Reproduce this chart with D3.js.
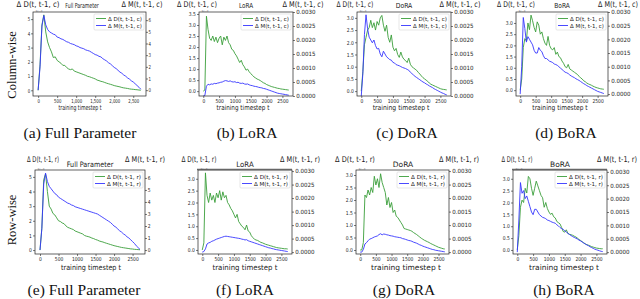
<!DOCTYPE html>
<html><head><meta charset="utf-8">
<script src="https://cdn.jsdelivr.net/npm/d3@7"></script>
<style>body{margin:0;background:#fff}svg{display:block}</style>
</head><body><svg id="c" width="640" height="299"></svg>
<script>
const timesteps = [0,50,100,150,200,250,300,350,400,450,500,550,600,650,700,750,800,850,900,950,1000,1050,1100,1150,1200,1250,1300,1350,1400,1450,1500,1550,1600,1650,1700,1750,1800,1850,1900,1950,2000,2050,2100,2150,2200,2250,2300,2350,2400,2450,2500,2550,2600,2650,2700];
const xTicks = [0,500,1000,1500,2000,2500];

// (a) Full Parameter, column-wise
const fullColD = [0,1.8,4.6,5.3,4.1,3.4,3.0,2.7,2.3,2.35,2.1,2.0,1.9,1.75,1.75,1.6,1.5,1.45,1.5,1.35,1.3,1.25,1.2,1.15,1.1,1.05,0.98,0.95,0.9,0.85,0.8,0.72,0.68,0.63,0.6,0.55,0.5,0.46,0.42,0.38,0.33,0.3,0.27,0.24,0.2,0.17,0.15,0.13,0.1,0.08,0.07,0.05,0.04,0.02,0.01];
const fullColM = [0,2.0,5.5,6.4,5.6,5.2,5.0,4.9,4.8,4.75,4.55,4.5,4.4,4.35,4.25,4.15,4.1,4.0,3.95,3.9,3.8,3.75,3.65,3.6,3.55,3.45,3.4,3.35,3.25,3.15,3.05,3.0,2.9,2.85,2.7,2.6,2.5,2.35,2.25,2.1,1.95,1.85,1.7,1.55,1.45,1.3,1.2,1.05,0.95,0.8,0.7,0.55,0.4,0.25,0.08];
// (b) LoRA, column-wise
const loraColD = [0,0.05,3.4,2.8,2.4,2.3,2.5,2.25,2.45,2.2,2.4,2.5,2.1,2.45,2.3,2.5,2.2,2.1,1.9,1.85,1.7,1.6,1.45,1.3,1.4,1.2,1.1,0.95,1.0,0.88,0.8,0.72,0.65,0.6,0.55,0.52,0.48,0.43,0.38,0.35,0.3,0.27,0.24,0.21,0.19,0.17,0.15,0.13,0.12,0.1,0.09,0.08,0.07,0.06,0.05];
const loraColM = [0,0.00002,0.00035,0.00042,0.0004,0.00043,0.00042,0.00045,0.00044,0.00046,0.00047,0.00049,0.0005,0.00053,0.00055,0.00054,0.00052,0.00054,0.00051,0.0005,0.00051,0.00048,0.00049,0.00046,0.00045,0.00046,0.00043,0.00042,0.00043,0.0004,0.00038,0.00037,0.00035,0.00034,0.00033,0.00031,0.0003,0.00029,0.00027,0.00026,0.00024,0.00022,0.0002,0.00018,0.00016,0.00014,0.00012,0.0001,0.00009,0.00008,0.00007,0.00006,0.00005,0.00004,0.00003];
// (c) DoRA, column-wise
const doraColD = [0,0.8,1.9,2.2,2.5,2.6,2.9,2.6,2.8,2.5,2.85,2.7,3.0,3.1,2.7,2.45,2.7,2.2,2.0,2.3,1.8,1.65,1.75,1.5,1.38,1.6,1.4,1.3,1.25,1.17,1.35,1.1,1.0,0.95,0.9,0.85,0.77,0.7,0.62,0.55,0.5,0.45,0.4,0.33,0.28,0.25,0.22,0.19,0.16,0.13,0.1,0.08,0.07,0.06,0.05];
const doraColM = [0,0.0008,0.0022,0.0029,0.0024,0.0021,0.002,0.0019,0.002,0.0018,0.00168,0.0017,0.0015,0.0014,0.0016,0.0015,0.0014,0.00135,0.0013,0.00128,0.0012,0.00118,0.00112,0.0011,0.00108,0.00105,0.00102,0.001,0.00098,0.00095,0.00092,0.00085,0.0008,0.00075,0.0007,0.00066,0.00062,0.00058,0.00054,0.0005,0.00047,0.00043,0.0004,0.00036,0.00033,0.0003,0.00026,0.00023,0.0002,0.00017,0.00014,0.00011,0.00009,0.00006,0.00004];
// (d) BoRA, column-wise
const boraColD = [0,0.5,1.9,2.3,2.2,3.0,2.7,3.35,3.1,2.8,2.6,3.05,2.9,2.5,2.6,2.3,2.1,2.0,2.4,2.0,1.85,1.8,1.9,1.6,1.7,1.5,1.45,1.3,1.2,1.05,1.0,1.15,0.95,0.9,0.85,0.8,0.75,0.7,0.62,0.55,0.5,0.42,0.38,0.32,0.28,0.25,0.22,0.18,0.15,0.12,0.1,0.08,0.06,0.05,0.04];
const boraColM = [0,0.001,0.0028,0.0024,0.0019,0.0021,0.002,0.0019,0.0018,0.0016,0.0015,0.0015,0.0017,0.0016,0.00155,0.0014,0.0013,0.0013,0.00125,0.0012,0.00118,0.00115,0.0011,0.00108,0.00105,0.001,0.00095,0.0009,0.00085,0.0008,0.00078,0.00075,0.0007,0.00066,0.00063,0.0006,0.00056,0.00053,0.0005,0.00046,0.00042,0.00038,0.00035,0.00031,0.00028,0.00025,0.00022,0.00019,0.00016,0.00013,0.0001,0.00008,0.00006,0.00004,0.00002];
// (e) Full Parameter, row-wise
const fullRowD = [0,1.5,4.8,5.2,4.0,3.0,2.8,2.5,2.4,2.2,2.0,1.95,1.85,1.8,1.65,1.55,1.5,1.45,1.4,1.3,1.25,1.2,1.15,1.1,1.0,0.95,0.92,0.88,0.82,0.78,0.72,0.68,0.62,0.58,0.55,0.5,0.46,0.42,0.38,0.34,0.3,0.27,0.24,0.21,0.18,0.16,0.14,0.12,0.1,0.08,0.07,0.05,0.04,0.03,0.02];
const fullRowM = [0,1.8,5.5,6.4,5.7,5.3,5.1,4.9,4.7,4.6,4.4,4.3,4.2,4.1,4.0,3.9,3.85,3.75,3.7,3.6,3.55,3.5,3.45,3.4,3.35,3.3,3.25,3.2,3.15,3.1,3.05,3.0,2.9,2.8,2.7,2.6,2.5,2.4,2.3,2.15,2.0,1.9,1.75,1.6,1.5,1.35,1.25,1.1,1.0,0.85,0.7,0.55,0.35,0.2,0.05];
// (f) LoRA, row-wise
const loraRowD = [0,0.3,3.25,2.3,2.0,2.4,2.1,2.3,2.0,2.4,2.2,2.5,2.1,2.45,2.2,2.3,2.0,1.9,1.75,1.65,1.5,1.35,1.5,1.2,1.1,1.0,0.95,0.85,1.05,0.8,0.75,0.6,0.52,0.45,0.42,0.4,0.36,0.32,0.3,0.27,0.24,0.22,0.2,0.18,0.16,0.14,0.12,0.1,0.09,0.08,0.07,0.06,0.05,0.05,0.04];
const loraRowM = [0,0.00002,0.00012,0.0003,0.00034,0.00036,0.0004,0.00042,0.00045,0.00048,0.0005,0.00052,0.00054,0.00056,0.00058,0.00059,0.00058,0.00057,0.00056,0.00055,0.00054,0.00053,0.00052,0.00051,0.0005,0.00048,0.00047,0.00045,0.00046,0.00042,0.0004,0.00038,0.00036,0.00034,0.00032,0.0003,0.00028,0.00026,0.00024,0.00022,0.0002,0.00018,0.00016,0.00015,0.00013,0.00012,0.0001,0.00009,0.00008,0.00007,0.00006,0.00005,0.00004,0.00003,0.00002];
// (g) DoRA, row-wise
const doraRowD = [0,0,0.3,2.2,2.1,2.4,2.2,2.5,2.3,2.95,2.6,2.85,2.5,3.05,2.7,2.5,2.3,1.8,2.1,1.7,1.9,1.5,1.6,1.35,1.3,1.2,1.1,1.0,0.86,0.84,0.82,0.8,0.78,0.75,0.7,0.66,0.62,0.57,0.52,0.47,0.43,0.39,0.36,0.33,0.3,0.26,0.23,0.2,0.17,0.14,0.11,0.09,0.07,0.05,0.04];
const doraRowM = [0,0,0.0001,0.0003,0.00035,0.00042,0.00048,0.0005,0.00053,0.00056,0.00058,0.0006,0.00065,0.00068,0.00064,0.00067,0.00066,0.00064,0.00063,0.00061,0.0006,0.00059,0.00057,0.00056,0.00055,0.00054,0.00053,0.0005,0.00049,0.00047,0.00045,0.00043,0.00042,0.0004,0.00037,0.00035,0.00033,0.0003,0.00027,0.00025,0.00022,0.0002,0.00018,0.00016,0.00014,0.00012,0.0001,0.00009,0.00007,0.00006,0.00005,0.00004,0.00003,0.00002,0.00001];
// (h) BoRA, row-wise
const boraRowD = [0,0.6,1.8,2.1,2.0,2.6,2.4,3.1,3.0,2.6,2.3,2.6,2.9,2.7,2.5,2.3,2.2,1.8,2.0,1.75,1.6,1.5,1.55,1.4,1.35,1.2,1.15,1.1,0.95,0.78,0.75,0.85,0.7,0.66,0.64,0.62,0.58,0.55,0.5,0.44,0.4,0.35,0.3,0.26,0.22,0.2,0.17,0.14,0.12,0.1,0.08,0.07,0.06,0.05,0.05];
const boraRowM = [0,0.0012,0.0026,0.0022,0.0023,0.002,0.0021,0.0019,0.0017,0.0015,0.0014,0.0016,0.0016,0.0015,0.0014,0.00135,0.0013,0.00128,0.00125,0.0012,0.00118,0.00115,0.00112,0.0011,0.00108,0.00102,0.00098,0.00092,0.00088,0.00085,0.0008,0.00075,0.0007,0.00066,0.00062,0.00058,0.00055,0.00052,0.00049,0.00045,0.00042,0.00038,0.00034,0.0003,0.00027,0.00024,0.0002,0.00017,0.00014,0.00011,0.00009,0.00007,0.00005,0.00003,0.00002];

const ticksInt5 = [0,1,2,3,4,5];
const ticksInt6 = [0,1,2,3,4,5,6];
const ticksHalf35 = [0,0.5,1,1.5,2,2.5,3,3.5];
const ticksHalf30 = [0,0.5,1,1.5,2,2.5,3];
const ticksSmall = [0,0.0005,0.001,0.0015,0.002,0.0025,0.003];

const fmtInt = d3.format('d'), fmt1 = d3.format('.1f'), fmt4 = d3.format('.4f');

const panels = [
 {title:'Full Parameter', cap:'(a) Full Parameter', s:'c', D:fullColD, M:fullColM, row:0,
  x0:33,x1:146, yL:[-0.4,5.5], yR:[-0.5,6.7], lt:ticksInt5, rt:ticksInt6, fL:fmtInt, fR:fmtInt, fx:d3.format(','),
  lx:38,lw:43, rx:142,rw:41, tx:82, xtx:80, sq:0.66, tsq:0.7, capx:80},
 {title:'LoRA', cap:'(b) LoRA', s:'c', D:loraColD, M:loraColM, row:0,
  x0:199,x1:293, yL:[-0.22,3.59], yR:[0,0.003], lt:ticksHalf35, rt:ticksSmall, fL:fmt1, fR:fmt4, fx:d3.format('d'),
  lx:197,lw:40, rx:303,rw:41, tx:246, xtx:243, sq:0.81, tsq:0.8, capx:247},
 {title:'DoRA', cap:'(c) DoRA', s:'c', D:doraColD, M:doraColM, row:0,
  x0:357,x1:451, yL:[-0.2,3.24], yR:[0,0.003], lt:ticksHalf30, rt:ticksSmall, fL:fmt1, fR:fmt4, fx:d3.format('d'),
  lx:355,lw:37, rx:460,rw:41, tx:404, xtx:401, sq:0.87, tsq:0.8, capx:407},
 {title:'BoRA', cap:'(d) BoRA', s:'c', D:boraColD, M:boraColM, row:0,
  x0:516,x1:608, yL:[-0.26,3.49], yR:[-0.00007,0.003], lt:ticksHalf30, rt:ticksSmall, fL:fmt1, fR:fmt4, fx:d3.format('d'),
  lx:516,lw:38, rx:618,rw:40, tx:562, xtx:560, sq:0.85, tsq:0.8, capx:566},
 {title:'Full Parameter', cap:'(e) Full Parameter', s:'r', D:fullRowD, M:fullRowM, row:1,
  x0:35,x1:145, yL:[-0.27,5.47], yR:[-0.33,6.66], lt:ticksInt5, rt:ticksInt6, fL:fmtInt, fR:fmtInt, fx:d3.format('d'),
  lx:43,lw:32, rx:145,rw:40, tx:90, xtx:91, sq:0.86, tsq:0.8, capx:84},
 {title:'LoRA', cap:'(f) LoRA', s:'r', D:loraRowD, M:loraRowM, row:1,
  x0:198,x1:292, yL:[-0.17,3.37], yR:[-0.00007,0.00304], lt:ticksHalf30, rt:ticksSmall, fL:fmt1, fR:fmt4, fx:d3.format('d'),
  lx:199,lw:35, rx:300,rw:40, tx:245, xtx:245, sq:0.93, tsq:0.8, capx:245, thickTop:true},
 {title:'DoRA', cap:'(g) DoRA', s:'r', D:doraRowD, M:doraRowM, row:1,
  x0:356,x1:449, yL:[-0.16,3.2], yR:[-0.00007,0.00304], lt:ticksHalf30, rt:ticksSmall, fL:fmt1, fR:fmt4, fx:d3.format('d'),
  lx:355,lw:40, rx:459,rw:40, tx:403, xtx:406, sq:1.0, tsq:0.8, capx:404},
 {title:'BoRA', cap:'(h) BoRA', s:'r', D:boraRowD, M:boraRowM, row:1,
  x0:513,x1:607, yL:[-0.17,3.37], yR:[-0.00007,0.00307], lt:ticksHalf30, rt:ticksSmall, fL:fmt1, fR:fmt4, fx:d3.format('d'),
  lx:517,lw:31, rx:617,rw:40, tx:560, xtx:564, sq:1.0, tsq:0.8, capx:564, thickTop:true}
];

const rows = [
 {y0:12, y1:96, lblY:6.8, titleY:8, tickFs:5.5, xtY:110, xtFs:7, capY:138, rowLabel:'Column-wise', rowLabelY:65},
 {y0:170, y1:254, lblY:162.3, titleY:166.5, tickFs:5.5, xtY:270, xtFs:7.5, capY:295, rowLabel:'Row-wise', rowLabelY:220}
];

const GREEN = '#3a9e3a', BLUE = '#3636ff', INK = '#222';
const SANS = 'DejaVu Sans, sans-serif', SERIF = 'Liberation Serif, Times New Roman, serif';
const xDomain = [-135, 2835];
const svg = d3.select('#c');
const defs = svg.append('defs');

function sqText(g, x, y, str, fs, sq, anchor) {
  return g.append('text').attr('transform', `translate(${x},${y}) scale(${sq},1)`)
    .attr('text-anchor', anchor || 'middle').attr('font-family', SANS)
    .attr('font-size', fs).attr('fill', INK).text(str);
}
// text squeezed horizontally so that its width becomes w (anchor: 'middle' or 'start')
function fitText(g, x, y, str, fs, w, anchor) {
  const t = g.append('text').attr('text-anchor', anchor || 'middle').attr('font-family', SANS)
    .attr('font-size', fs).attr('fill', INK).text(str);
  const len = t.node().getComputedTextLength() || w;
  t.attr('transform', `translate(${x},${y}) scale(${w / len},1)`);
  return t;
}

rows.forEach(r => {
  svg.append('text').attr('transform', `translate(15.5,${r.rowLabelY}) rotate(-90)`)
    .attr('text-anchor', 'middle').attr('font-family', SERIF).attr('font-size', 12.5)
    .attr('fill', '#111').text(r.rowLabel);
});

panels.forEach((p, i) => {
  const r = rows[p.row];
  const g = svg.append('g');
  const x = d3.scaleLinear().domain(xDomain).range([p.x0, p.x1]);
  const yL = d3.scaleLinear().domain(p.yL).range([r.y1, r.y0]);
  const yR = d3.scaleLinear().domain(p.yR).range([r.y1, r.y0]);

  const cid = 'clip' + i;
  defs.append('clipPath').attr('id', cid).append('rect')
    .attr('x', p.x0).attr('y', r.y0).attr('width', p.x1 - p.x0).attr('height', r.y1 - r.y0);

  const pts = (vals) => vals.map((v, k) => [timesteps[k], v]).filter(d => d[0] !== undefined);
  const lineL = d3.line().x(d => x(d[0])).y(d => yL(d[1]));
  const lineR = d3.line().x(d => x(d[0])).y(d => yR(d[1]));
  const plot = g.append('g').attr('clip-path', `url(#${cid})`);
  plot.append('path').attr('d', lineL(pts(p.D))).attr('fill', 'none').attr('stroke', GREEN).attr('stroke-width', 0.9);
  plot.append('path').attr('d', lineR(pts(p.M))).attr('fill', 'none').attr('stroke', BLUE).attr('stroke-width', 0.9);

  // axes
  const styleAxis = (sel, fs, sq) => {
    sel.select('.domain').remove();
    sel.selectAll('line').attr('stroke', INK).attr('stroke-width', 0.6);
    sel.selectAll('text').attr('font-family', SANS).attr('font-size', fs).attr('fill', INK)
      .attr('transform', `scale(${sq},1)`);
  };
  g.append('g').attr('transform', `translate(0,${r.y1})`)
    .call(d3.axisBottom(x).tickValues(xTicks).tickSize(2).tickPadding(1).tickFormat(p.fx))
    .call(s => styleAxis(s, r.tickFs, p.tsq));
  g.append('g').attr('transform', `translate(${p.x0},0)`)
    .call(d3.axisLeft(yL).tickValues(p.lt).tickSize(2).tickPadding(2).tickFormat(p.fL))
    .call(s => styleAxis(s, r.tickFs, p.tsq));
  const small = p.rt === ticksSmall;
  g.append('g').attr('transform', `translate(${p.x1},0)`)
    .call(d3.axisRight(yR).tickValues(p.rt).tickSize(2).tickPadding(1.5).tickFormat(p.fR))
    .call(s => styleAxis(s, small ? 5.8 : r.tickFs, small ? 0.95 : p.tsq));

  // frame
  g.append('rect').attr('x', p.x0).attr('y', r.y0).attr('width', p.x1 - p.x0).attr('height', r.y1 - r.y0)
    .attr('fill', 'none').attr('stroke', INK).attr('stroke-width', 0.7);
  if (p.thickTop) {
    g.append('line').attr('x1', p.x0 - 1).attr('x2', p.x1).attr('y1', r.y0 - 0.5).attr('y2', r.y0 - 0.5)
      .attr('stroke', '#666').attr('stroke-width', 1.6);
  }

  // labels
  fitText(g, p.lx, r.lblY, `Δ D(t, t-1, ${p.s})`, 8, p.lw);
  fitText(g, p.rx, r.lblY, `Δ M(t, t-1, ${p.s})`, 8, p.rw);
  g.append('text').attr('x', p.x0 + 6).attr('y', r.y0 - 0.2).attr('text-anchor', 'middle')
    .attr('font-family', SANS).attr('font-size', 2.6).attr('fill', '#555').text('1e−3');
  sqText(g, p.tx, r.titleY, p.title, p.row ? 7.5 : 7, p.sq);
  sqText(g, p.xtx, r.xtY, 'training timestep t', r.xtFs, p.sq);

  // legend
  const lg = g.append('g');
  const bx = p.x1 - 52, by = r.y0 + 2;
  lg.append('rect').attr('x', bx).attr('y', by).attr('width', 50).attr('height', 16).attr('rx', 1)
    .attr('fill', 'white').attr('fill-opacity', 0.85).attr('stroke', '#ccc').attr('stroke-width', 0.5);
  [[GREEN, `Δ D(t, t-1, ${p.s})`, 4.5], [BLUE, `Δ M(t, t-1, ${p.s})`, 11.5]].forEach(([c, t, dy]) => {
    lg.append('line').attr('x1', bx + 2).attr('x2', bx + 12).attr('y1', by + dy).attr('y2', by + dy)
      .attr('stroke', c).attr('stroke-width', 0.9);
    fitText(lg, bx + 14, by + dy + 2, t, 5.5, 34, 'start');
  });

  // caption
  svg.append('text').attr('x', p.capx).attr('y', r.capY).attr('text-anchor', 'middle')
    .attr('font-family', SERIF).attr('font-size', 15.5).attr('fill', '#111').text(p.cap);
});
</script>
</body></html>
